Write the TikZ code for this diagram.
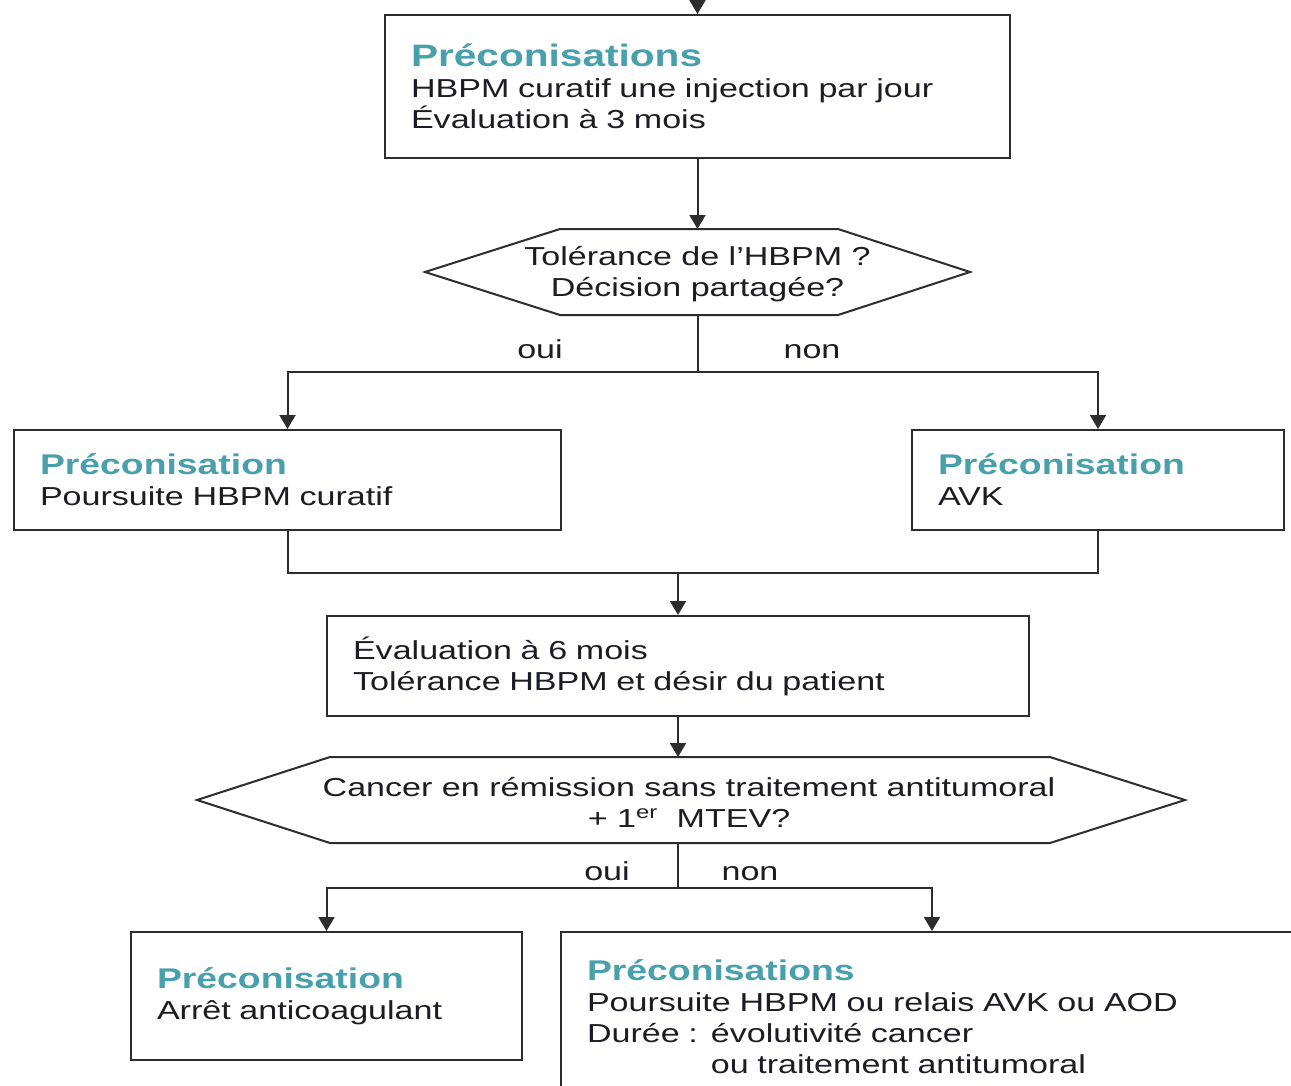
\documentclass[tikz,border=0pt]{standalone}
\usepackage{fontspec}
\setmainfont{Liberation Sans}[FakeStretch=1.31]
\usetikzlibrary{arrows.meta,calc}
\definecolor{teal}{RGB}{72,160,172}
\definecolor{ink}{RGB}{28,28,36}
\definecolor{edge}{RGB}{45,45,45}
\newcommand{\bodysize}{\fontsize{26}{31}\selectfont}
\newcommand{\headsize}{\fontsize{28.5}{31}\selectfont}
\newcommand{\bighead}{\fontsize{31}{31}\selectfont}
\newcommand{\head}[1]{{\headsize\bfseries\color{teal}#1}}
\begin{document}
\begin{tikzpicture}[x=1pt,y=-1pt,
  box/.style={draw=edge, line width=2pt, rectangle, align=left,
    inner xsep=26pt, inner ysep=0pt, font=\bodysize, text=ink},
  question/.style={align=center, font=\bodysize, text=ink, inner sep=0pt},
  lbl/.style={font=\bodysize, text=ink, inner sep=0pt, anchor=base},
  hexa/.style={draw=edge, line width=2pt, line join=miter},
  conn/.style={draw=edge, line width=2pt},
  arr/.style={conn, -{Triangle[width=16pt,length=14pt]}},
]
\clip (0,0) rectangle (1291,1085);
\fill[white] (0,0) rectangle (1291,1085);

% boxes
\node[box, minimum width=625pt, minimum height=143pt, text width=573pt] (b1) at (697.5,86.5)
  {{\bighead\bfseries\color{teal}Préconisations}\\HBPM curatif une injection par jour\\Évaluation à 3 mois};
\node[box, minimum width=547pt, minimum height=100pt, text width=495pt] (b2) at (287.5,480)
  {\head{Préconisation}\\Poursuite HBPM curatif};
\node[box, minimum width=372pt, minimum height=100pt, text width=320pt] (b3) at (1098,480)
  {\head{Préconisation}\\AVK};
\node[box, minimum width=702pt, minimum height=100pt, text width=650pt] (b4) at (678,666)
  {Évaluation à 6 mois\\Tolérance HBPM et désir du patient};
\node[box, minimum width=391pt, minimum height=128pt, text width=339pt] (b5) at (326.5,996)
  {\head{Préconisation}\\Arrêt anticoagulant};
\node[box, minimum width=742pt, minimum height=170pt, text width=690pt] (b6) at (932,1017)
  {\head{Préconisations}\\Poursuite HBPM ou relais AVK ou AOD\\Durée : évolutivité cancer\\\hphantom{Durée : }ou traitement antitumoral};

% decision hexagons
\draw[hexa] (425,272) -- (560,229) -- (838,229) -- (970,272) -- (838,315) -- (560,315) -- cycle;
\node[question] (q1) at (697.5,274) {Tolérance de l’HBPM ?\\Décision partagée?};
\coordinate (q1n) at (697.5,229);
\coordinate (q1s) at (697.5,315);

\draw[hexa] (197,800) -- (330,757) -- (1050,757) -- (1185,800) -- (1050,843) -- (330,843) -- cycle;
\node[question] (q2) at (689,802) {Cancer en rémission sans traitement antitumoral\\+ 1\textsuperscript{er}\ \ MTEV?};
\coordinate (q2n) at (678,757);
\coordinate (q2s) at (678,843);

% junction points
\coordinate (top) at (697.5,-20);
\coordinate (j1) at (697.5,372);
\coordinate (j2) at (678,573);
\coordinate (j3) at (678,888);

% connectors
\draw[arr] (top) -- (b1.north);
\draw[arr] (b1.south) -- (q1n);
\draw[conn] (q1s) -- (j1);
\draw[arr] (j1) -| (b2.north);
\draw[arr] (j1) -| (b3.north);
\draw[conn] (b2.south) |- (j2) -| (b3.south);
\draw[arr] (j2) -- (b4.north);
\draw[arr] (b4.south) -- (q2n);
\draw[conn] (q2s) -- (j3);
\draw[arr] (j3) -| (b5.north);
\draw[arr] (j3) -| (b6.north);

% branch labels
\node[lbl] (l1) at (540,358) {oui};
\node[lbl] (l2) at (812,358) {non};
\node[lbl] (l3) at (607,880) {oui};
\node[lbl] (l4) at (750,880) {non};
\end{tikzpicture}
\end{document}
